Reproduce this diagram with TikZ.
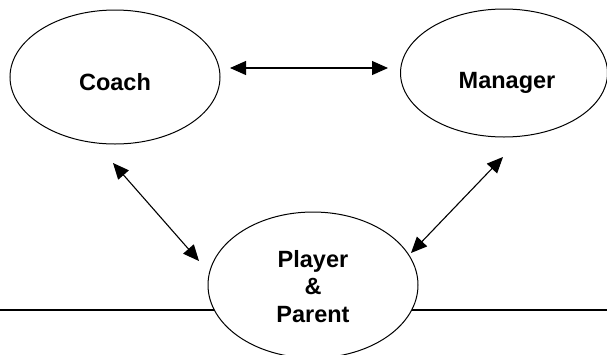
\documentclass[tikz,border=0pt]{standalone}
\usepackage{fontspec}
\setmainfont{Liberation Sans}
\usetikzlibrary{shapes.geometric,arrows.meta}
\tikzset{
  oval/.style={ellipse, draw=black, line width=1pt, fill=white, inner sep=0pt},
  lbl/.style={font=\fontsize{23.5}{27.5}\selectfont\bfseries, inner sep=0pt, align=center},
  link/.style={line width=1.1pt, {Triangle[length=16pt,width=14pt]}-{Triangle[length=16pt,width=14pt]}},
  rule/.style={line width=1.2pt}
}
\begin{document}
\begin{tikzpicture}[x=1pt,y=-1pt]
\useasboundingbox (0,0) rectangle (607,354);
\clip (0,0) rectangle (607,354);
\fill[white] (0,0) rectangle (607,354);
% ground line
\coordinate (lineL) at (0,310);
\coordinate (lineR) at (607,310);
\draw[rule] (lineL) -- (lineR);
% ellipses
\node[oval, minimum width=210pt, minimum height=134pt] (coach) at (115,77) {};
\node[oval, minimum width=207pt, minimum height=128pt] (manager) at (504,73) {};
\node[oval, minimum width=210pt, minimum height=146pt] (player) at (313,285) {};
% labels
\node[lbl, anchor=base] (coachtxt) at (115,90) {Coach};
\node[lbl, anchor=base] (managertxt) at (507,88) {Manager};
\node[lbl, anchor=base] (playertxt) at (313,322) {Player\\\&\\Parent};
% arrow ends
\coordinate (a1) at (230,68);
\coordinate (a2) at (388,68);
\coordinate (b1) at (113,163);
\coordinate (b2) at (199,261);
\coordinate (c1) at (503,157);
\coordinate (c2) at (411,253);
\draw[link] (a1) -- (a2);
\draw[link] (b1) -- (b2);
\draw[link] (c1) -- (c2);
\end{tikzpicture}
\end{document}
